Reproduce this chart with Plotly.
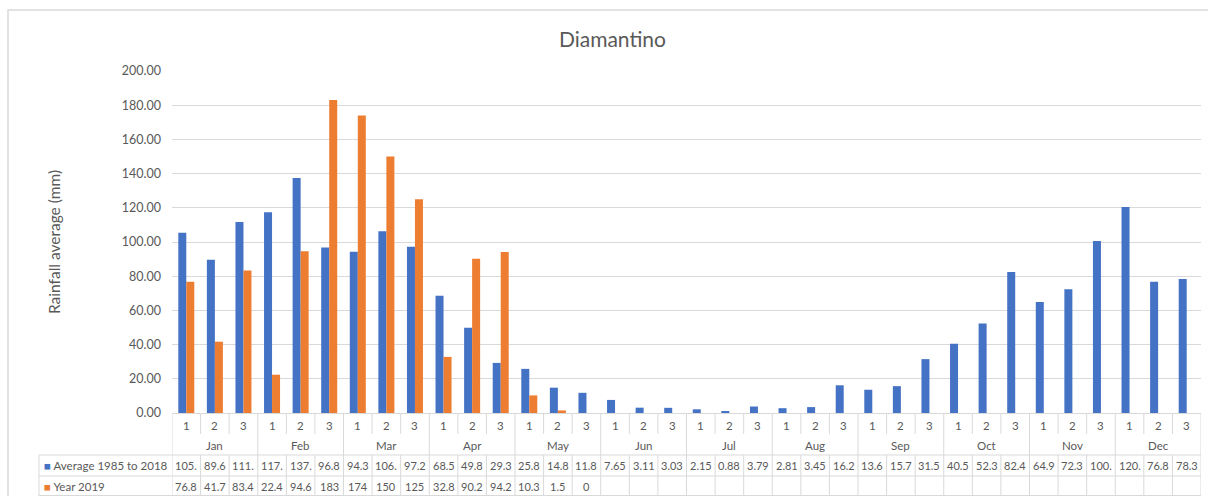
import plotly.graph_objects as go

# ---------------- data ----------------
months = ["Jan", "Feb", "Mar", "Apr", "May", "Jun", "Jul", "Aug", "Sep", "Oct", "Nov", "Dec"]
dekads = ["1", "2", "3"]
avg_label = "Average 1985 to 2018"
year_label = "Year 2019"
avg_values = [105.4, 89.6, 111.7, 117.4, 137.5, 96.8, 94.3, 106.3, 97.2,
              68.5, 49.8, 29.3, 25.8, 14.8, 11.8, 7.65, 3.11, 3.03,
              2.15, 0.88, 3.79, 2.81, 3.45, 16.2, 13.6, 15.7, 31.5,
              40.5, 52.3, 82.4, 64.9, 72.3, 100.6, 120.4, 76.8, 78.3]
year_values = [76.8, 41.7, 83.4, 22.4, 94.6, 183, 174, 150, 125,
               32.8, 90.2, 94.2, 10.3, 1.5, 0, None, None, None,
               None, None, None, None, None, None, None, None, None,
               None, None, None, None, None, None, None, None, None]
y_ticks = [0, 20, 40, 60, 80, 100, 120, 140, 160, 180, 200]
title_text = "Diamantino"
y_title = "Rainfall average (mm)"

categories = [f"{m} {d}" for m in months for d in dekads]
n = len(categories)
xs = list(range(n))

# ---------------- styling / layout constants ----------------
W, H = 1208, 496
ML, MR, MT, MB = 172, 7, 71, 83
PW, PH = W - ML - MR, H - MT - MB
BLUE, ORANGE = "#4472C4", "#ED7D31"
GRID = "#D9D9D9"
TXT = "#595959"
FONT = "Lato"
AX_BOTTOM = H - MB


def py(p):
    """pixel row -> paper y"""
    return (AX_BOTTOM - p) / PH


def px(p):
    """pixel column -> paper x"""
    return (p - ML) / PW


fig = go.Figure()
fig.add_trace(go.Bar(x=xs, y=avg_values, name=avg_label, marker_color=BLUE,
                     marker_line_width=0, hoverinfo="skip"))
fig.add_trace(go.Bar(x=xs, y=year_values, name=year_label, marker_color=ORANGE,
                     marker_line_width=0, hoverinfo="skip"))

shapes = []
annotations = []


def vline(x, p0, p1):
    shapes.append(dict(type="line", xref="x", yref="paper", x0=x, x1=x,
                       y0=py(p0), y1=py(p1), line=dict(color=GRID, width=1)))


# category axis separators and table verticals
for i in range(n + 1):
    xb = i - 0.5
    if i % 3 == 0:
        vline(xb, AX_BOTTOM, 496)
    else:
        vline(xb, AX_BOTTOM, 434)
        vline(xb, 455, 496)

# table horizontal lines
TABLE_LEFT = 39
for p in (455, 476, 495.5):
    shapes.append(dict(type="line", xref="paper", yref="paper",
                       x0=px(TABLE_LEFT), x1=1.0, y0=py(p), y1=py(p),
                       line=dict(color=GRID, width=1)))
shapes.append(dict(type="line", xref="paper", yref="paper",
                   x0=px(TABLE_LEFT), x1=px(TABLE_LEFT), y0=py(455), y1=py(496),
                   line=dict(color=GRID, width=1)))
# chart area border
shapes.append(dict(type="rect", xref="paper", yref="paper",
                   x0=px(8), x1=px(1220), y0=py(10), y1=py(520),
                   line=dict(color=GRID, width=1.5), layer="below"))


def label(x, y, text, size, xref="x", xanchor="center"):
    annotations.append(dict(x=x, y=py(y), xref=xref, yref="paper",
                            xanchor=xanchor, yanchor="middle",
                            text=text, showarrow=False,
                            font=dict(family=FONT, size=size, color=TXT)))


# tick labels (dekads) and month labels
for i in range(n):
    label(i, 425, dekads[i % 3], 11.5)
for m, name in enumerate(months):
    label(3 * m + 1, 445, name, 11.5)


def cell(v):
    if v is None:
        return ""
    return str(v)[:4]


for i in range(n):
    for v, p in ((avg_values[i], 465.5), (year_values[i], 486.5)):
        t = cell(v)
        if t:
            label(i, p, t, 11)

for lab, col, p in ((avg_label, BLUE, 465.5), (year_label, ORANGE, 486.5)):
    label(px(42), p, f"<span style='color:{col}'>■</span> {lab}", 11.5,
          xref="paper", xanchor="left")

# y-axis title
annotations.append(dict(x=px(43), y=0.5, xref="paper", yref="paper",
                        text=y_title, textangle=-90, showarrow=False,
                        font=dict(family=FONT, size=15.5, color=TXT)))

fig.update_layout(
    width=W, height=H,
    margin=dict(l=ML, r=MR, t=MT, b=MB),
    paper_bgcolor="white", plot_bgcolor="white",
    barmode="group", bargap=0.44, bargroupgap=0,
    showlegend=False,
    title=dict(text=title_text, x=0.507, xref="container", xanchor="center",
               y=1 - 40 / H, yref="container", yanchor="middle",
               font=dict(family=FONT, size=21, color=TXT)),
    xaxis=dict(range=[-0.5, n - 0.5], showticklabels=False, showgrid=False,
               zeroline=False, ticks="", showline=True, linecolor=GRID, linewidth=1,
               fixedrange=True),
    yaxis=dict(range=[0, 200], tickvals=y_ticks,
               ticktext=[f"{v:.2f}" for v in y_ticks],
               showgrid=True, gridcolor=GRID, gridwidth=1, zeroline=False,
               showline=False, ticks="", ticklabelstandoff=10,
               tickfont=dict(family=FONT, size=12.5, color=TXT), fixedrange=True),
    shapes=shapes,
    annotations=annotations,
    font=dict(family=FONT, color=TXT),
)

fig.write_html("out.html", config={"displayModeBar": False},
               post_script="document.body.style.margin='0px';document.body.style.overflow='hidden';")
